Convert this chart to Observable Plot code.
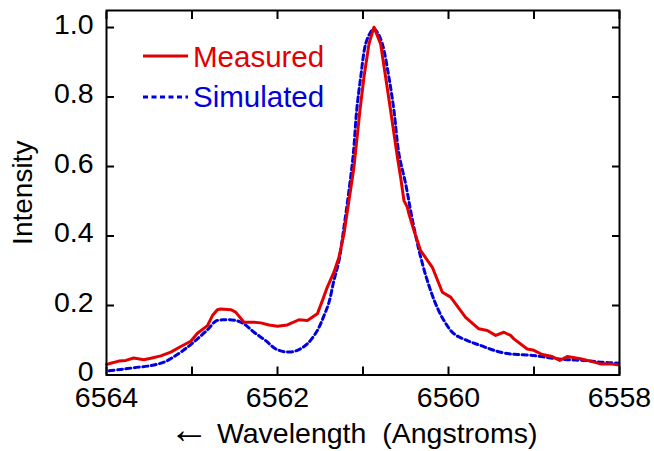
<!DOCTYPE html>
<html>
<head>
<meta charset="utf-8">
<script src="https://cdn.jsdelivr.net/npm/d3@7"></script>
<script src="https://cdn.jsdelivr.net/npm/@observablehq/plot@0.6"></script>
<style>
  html, body { margin: 0; padding: 0; background: white; }
  #wrap { position: relative; width: 654px; height: 451px; }
  #legend { position: absolute; left: 0; top: 0; pointer-events: none; }
</style>
</head>
<body>
<div id="wrap"></div>
<script>
// Measured spectrum (wavelength in Å, intensity)
const measuredWavelength = [6564.00, 6563.95, 6563.856, 6563.774, 6563.681, 6563.564, 6563.482, 6563.365, 6563.248, 6563.131, 6563.015, 6562.936, 6562.819, 6562.761, 6562.703, 6562.664, 6562.547, 6562.489, 6562.392, 6562.275, 6562.196, 6562.099, 6562.001, 6561.884, 6561.749, 6561.650, 6561.534, 6561.475, 6561.417, 6561.340, 6561.281, 6561.223, 6561.164, 6561.106, 6561.036, 6560.989, 6560.930, 6560.872, 6560.794, 6560.735, 6560.677, 6560.598, 6560.560, 6560.521, 6560.482, 6560.463, 6560.404, 6560.326, 6560.189, 6560.072, 6559.975, 6559.800, 6559.645, 6559.546, 6559.449, 6559.352, 6559.274, 6559.235, 6559.079, 6559.002, 6558.903, 6558.787, 6558.698, 6558.611, 6558.456, 6558.339, 6558.222, 6558.105, 6558.008];
const measuredIntensity = [0.030, 0.034, 0.040, 0.042, 0.049, 0.044, 0.048, 0.055, 0.066, 0.082, 0.097, 0.120, 0.142, 0.171, 0.188, 0.190, 0.188, 0.181, 0.152, 0.152, 0.150, 0.144, 0.140, 0.144, 0.159, 0.157, 0.176, 0.214, 0.253, 0.296, 0.339, 0.406, 0.502, 0.598, 0.761, 0.857, 0.953, 1.001, 0.953, 0.857, 0.761, 0.627, 0.569, 0.502, 0.483, 0.464, 0.416, 0.358, 0.310, 0.238, 0.224, 0.166, 0.133, 0.128, 0.114, 0.123, 0.114, 0.104, 0.075, 0.071, 0.059, 0.053, 0.042, 0.053, 0.047, 0.040, 0.032, 0.032, 0.029];

// Simulated spectrum
const simulatedWavelength = [6563.97, 6563.833, 6563.677, 6563.482, 6563.327, 6563.190, 6563.053, 6562.936, 6562.819, 6562.722, 6562.625, 6562.489, 6562.392, 6562.275, 6562.138, 6562.021, 6561.884, 6561.767, 6561.650, 6561.534, 6561.456, 6561.398, 6561.340, 6561.281, 6561.223, 6561.164, 6561.113, 6561.074, 6561.027, 6560.969, 6560.915, 6560.872, 6560.830, 6560.774, 6560.697, 6560.638, 6560.580, 6560.501, 6560.443, 6560.384, 6560.326, 6560.248, 6560.151, 6560.054, 6559.937, 6559.780, 6559.625, 6559.469, 6559.294, 6559.196, 6559.002, 6558.806, 6558.611, 6558.417, 6558.222, 6558.008];
const simulatedIntensity = [0.012, 0.016, 0.021, 0.027, 0.037, 0.056, 0.080, 0.104, 0.130, 0.155, 0.159, 0.157, 0.147, 0.123, 0.099, 0.075, 0.066, 0.071, 0.090, 0.128, 0.171, 0.209, 0.272, 0.329, 0.425, 0.531, 0.637, 0.761, 0.857, 0.953, 0.985, 0.997, 0.985, 0.953, 0.857, 0.761, 0.637, 0.550, 0.473, 0.401, 0.340, 0.272, 0.205, 0.157, 0.119, 0.099, 0.085, 0.071, 0.061, 0.059, 0.056, 0.049, 0.044, 0.042, 0.037, 0.034];

const xTicks = [6564, 6563, 6562, 6561, 6560, 6559, 6558];
const xTickLabels = [6564, 6562, 6560, 6558];
const yTicks = [0, 0.2, 0.4, 0.6, 0.8, 1.0];
const seriesNames = ["Measured", "Simulated"];
const seriesColors = ["#e30000", "#0000dd"];
const xLabelArrow = "\u2190";
const xLabelText = " Wavelength\u00a0 (Angstroms)";
const yLabel = "Intensity";

const measured = measuredWavelength.map((w, i) => ({w, v: measuredIntensity[i]}));
const simulated = simulatedWavelength.map((w, i) => ({w, v: simulatedIntensity[i]}));

const FONT = "'Liberation Sans', Arial, Helvetica, sans-serif";

const chart = Plot.plot({
  width: 654,
  height: 451,
  marginLeft: 106,
  marginRight: 35,
  marginTop: 10,
  marginBottom: 76.5,
  style: {fontFamily: FONT, fontSize: "28px", color: "black", background: "white", overflow: "visible"},
  x: {domain: [6564, 6558]},
  y: {domain: [0, 1.049]},
  marks: [
    Plot.line(simulated, {x: "w", y: "v", stroke: seriesColors[1], strokeWidth: 3, strokeDasharray: "5,3.5", curve: "catmull-rom"}),
    Plot.line(measured, {x: "w", y: "v", stroke: seriesColors[0], strokeWidth: 3, curve: "linear"}),
    Plot.frame({stroke: "black", strokeWidth: 2}),
    Plot.axisX({anchor: "bottom", ticks: xTicks, tickSize: -8, tickFormat: () => "", label: null, strokeWidth: 2}),
    Plot.axisX({anchor: "top", ticks: xTicks, tickSize: -8, tickFormat: () => "", label: null, strokeWidth: 2}),
    Plot.axisX({anchor: "bottom", ticks: xTickLabels, tickSize: 0, tickPadding: 12, tickFormat: d => String(d), label: null, fontSize: 28.5}),
    Plot.axisY({anchor: "left", ticks: yTicks, tickSize: -8, tickFormat: () => "", label: null, strokeWidth: 2}),
    Plot.axisY({anchor: "right", ticks: yTicks, tickSize: -8, tickFormat: () => "", label: null, strokeWidth: 2}),
    Plot.axisY({anchor: "left", ticks: yTicks, tickSize: 0, tickPadding: 13, dy: -3, tickFormat: d => d === 0 ? "0" : d.toFixed(1), label: null, fontSize: 28.5}),
    Plot.text([yLabel], {frameAnchor: "left", textAnchor: "middle", lineAnchor: "bottom", rotate: -90, dx: -74.3, fontSize: 28, fill: "black"})
  ]
});

const wrap = document.getElementById("wrap");
wrap.appendChild(chart);

// Overlay: legend (inside the plot area, top-left) and x-axis title
const svg = d3.select(wrap).append("svg")
  .attr("id", "legend")
  .attr("width", 654).attr("height", 451);
const rows = [
  {name: seriesNames[0], color: seriesColors[0], dash: null, ly: 56, ty: 67},
  {name: seriesNames[1], color: seriesColors[1], dash: "5,3.5", ly: 97, ty: 107}
];
rows.forEach(r => {
  svg.append("line")
    .attr("x1", 143).attr("x2", 188).attr("y1", r.ly).attr("y2", r.ly)
    .attr("stroke", r.color).attr("stroke-width", 3)
    .attr("stroke-dasharray", r.dash);
  svg.append("text")
    .attr("x", 193).attr("y", r.ty)
    .attr("fill", r.color)
    .style("font-family", FONT).style("font-size", "29.5px")
    .text(r.name);
});
const xt = svg.append("text")
  .attr("x", 169).attr("y", 443)
  .attr("text-anchor", "start")
  .attr("fill", "black")
  .style("font-family", FONT).style("font-size", "28.5px");
xt.append("tspan").style("font-size", "40px").text(xLabelArrow);
xt.append("tspan").text(xLabelText);
</script>
</body>
</html>
